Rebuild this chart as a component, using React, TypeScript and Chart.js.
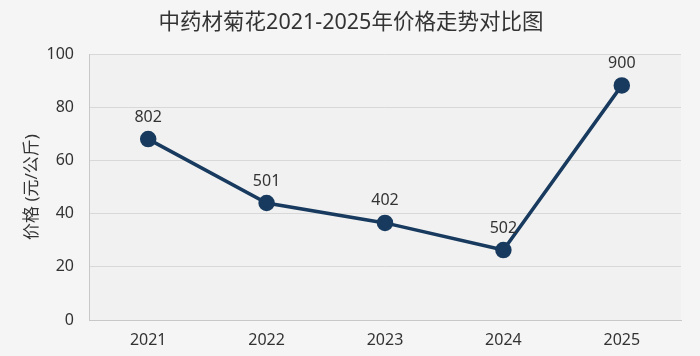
import React, { useEffect, useRef } from "react";
import { Chart, registerables } from "chart.js";

Chart.register(...registerables);

const TITLE = "中药材菊花2021-2025年价格走势对比图";
const Y_TITLE = "价格 (元/公斤)";
const years = ["2021", "2022", "2023", "2024", "2025"];
const prices = [68, 44, 36.5, 26.3, 88.2];
const pointLabels = ["802", "501", "402", "502", "900"];

const FONT = '"Noto Sans", "Noto Sans CJK SC", sans-serif';
const LINE_COLOR = "#173a5e";
const TEXT_COLOR = "#333333";

const bgPlugin = {
  id: "bgPlugin",
  beforeDraw(chart: any) {
    const { ctx, chartArea } = chart;
    ctx.save();
    ctx.fillStyle = "#f5f5f5";
    ctx.fillRect(0, 0, chart.width, chart.height);
    ctx.fillStyle = "#f1f1f1";
    ctx.fillRect(chartArea.left, chartArea.top, chartArea.right - chartArea.left, chartArea.bottom - chartArea.top);
    ctx.font = `21.5px ${FONT}`;
    ctx.fillStyle = TEXT_COLOR;
    ctx.textAlign = "center";
    ctx.textBaseline = "middle";
    ctx.fillText(TITLE, 351, 23);
    ctx.restore();
  },
};

const labelPlugin = {
  id: "labelPlugin",
  afterDatasetsDraw(chart: any) {
    const { ctx } = chart;
    const meta = chart.getDatasetMeta(0);
    ctx.save();
    ctx.font = `16px ${FONT}`;
    ctx.fillStyle = TEXT_COLOR;
    ctx.textAlign = "center";
    ctx.textBaseline = "middle";
    meta.data.forEach((pt: any, i: number) => {
      ctx.fillText(pointLabels[i], pt.x, pt.y - 22);
    });
    ctx.restore();
  },
};

export default function App() {
  const ref = useRef<HTMLCanvasElement | null>(null);
  useEffect(() => {
    document.body.style.margin = "0";
    const chart = new Chart(ref.current!, {
      type: "line",
      data: {
        labels: years,
        datasets: [
          {
            data: prices,
            borderColor: LINE_COLOR,
            backgroundColor: LINE_COLOR,
            borderWidth: 3.5,
            pointRadius: 6.5,
            pointHoverRadius: 6.5,
            pointBackgroundColor: LINE_COLOR,
            pointBorderColor: LINE_COLOR,
            tension: 0,
          },
        ],
      },
      options: {
        animation: false,
        responsive: false,
        layout: { padding: { left: 0, right: 19, top: 54, bottom: 0 } },
        plugins: {
          legend: { display: false },
          tooltip: { enabled: false },
          title: { display: false },
        },
        scales: {
          x: {
            offset: true,
            grid: { display: false, drawTicks: false },
            border: { display: true, color: "#c8c8c8", width: 1 },
            ticks: { color: TEXT_COLOR, font: { size: 16, family: FONT }, padding: 11 },
            afterFit(scale: any) {
              scale.height = 36;
            },
          },
          y: {
            min: 0,
            max: 100,
            ticks: { stepSize: 20, color: TEXT_COLOR, font: { size: 16, family: FONT }, padding: 15 },
            grid: { color: "#d8d8d8", drawTicks: false, lineWidth: 1 },
            border: { display: true, color: "#c8c8c8", width: 1 },
            title: {
              display: true,
              text: Y_TITLE,
              color: TEXT_COLOR,
              font: { size: 17, family: FONT },
              padding: { top: 22, bottom: 0 },
            },
            afterFit(scale: any) {
              scale.width = 89;
            },
          },
        },
      } as any,
      plugins: [bgPlugin, labelPlugin],
    });
    return () => chart.destroy();
  }, []);
  return <canvas ref={ref} width={700} height={356} style={{ display: "block" }} />;
}
